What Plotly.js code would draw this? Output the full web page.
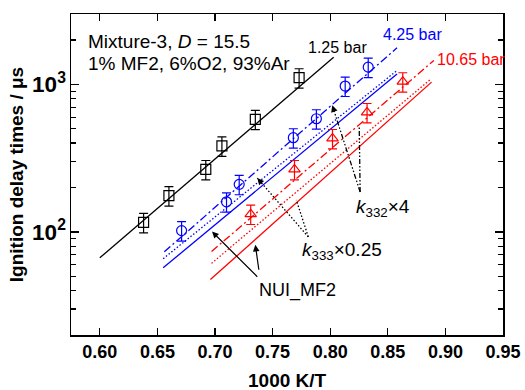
<!DOCTYPE html>
<html>
<head>
<meta charset="utf-8">
<script src="https://cdn.plot.ly/plotly-3.0.1.min.js"></script>
<style>html,body{margin:0;padding:0;background:#fff;}#chart{width:525px;height:390px;}</style>
</head>
<body>
<div id="chart"></div>
<script>
// ---- data ----
const sqX = [0.638, 0.660, 0.692, 0.706, 0.735, 0.773];
const sqY = [116, 176, 265, 383, 580, 1110];
const ciX = [0.671, 0.710, 0.721, 0.768, 0.788, 0.813, 0.833];
const ciY = [102, 160, 210, 435, 585, 974, 1309];
const trX = [0.731, 0.769, 0.802, 0.832, 0.863];
const trY = [132, 265, 430, 645, 1043];
const errPct = 15;

// model lines (end points)
const blackX = [0.600, 0.803], blackY = [66.7, 1528];
const blueK332X = [0.656, 0.858], blueK332Y = [73.3, 1770];
const blueK333X = [0.655, 0.858], blueK333Y = [65.8, 1243];
const blueNuiX = [0.655, 0.858], blueNuiY = [57.1, 1178];
const redK332X = [0.697, 0.890], redK332Y = [73.6, 1453];
const redK333X = [0.697, 0.887], redK333Y = [61.2, 1081];
const redNuiX = [0.696, 0.888], redNuiY = [47.5, 1036];

const xTickVals = [0.60, 0.65, 0.70, 0.75, 0.80, 0.85, 0.90, 0.95];

// arrows: [tailX, tailY, tipX, tipY]
const nuiArrows = [[0.7393, 47.4, 0.6974, 100.5], [0.7393, 47.4, 0.735, 81.7]];
const k333Arrows = [[0.781, 92.5, 0.7367, 231.7], [0.781, 92.5, 0.7706, 164.4]];
const k332Arrows = [[0.826, 186.2, 0.8018, 721], [0.826, 186.2, 0.8252, 511.7]];

const BLACK = '#000000', BLUE = '#0000ff', RED = '#ff0000';
const FONT = 'Liberation Sans, Arial, Helvetica, sans-serif';

function line(x, y, color, dash) {
  return {x: x, y: y, type: 'scatter', mode: 'lines', hoverinfo: 'skip',
          line: {color: color, width: 1.3, dash: dash}};
}
function pts(x, y, color, symbol) {
  return {x: x, y: y, type: 'scatter', mode: 'markers',
          marker: {symbol: symbol, size: 10, color: color, line: {color: color, width: 1.2}},
          error_y: {type: 'percent', value: errPct, color: color, thickness: 1.2, width: 4.5}};
}

const traces = [
  line(blackX, blackY, BLACK, 'solid'),
  line(blueK332X, blueK332Y, BLUE, '8px,3px,2px,3px'),
  line(blueK333X, blueK333Y, BLUE, '1.5px,2px'),
  line(blueNuiX, blueNuiY, BLUE, 'solid'),
  line(redK332X, redK332Y, RED, '8px,3px,2px,3px'),
  line(redK333X, redK333Y, RED, '1.5px,2px'),
  line(redNuiX, redNuiY, RED, 'solid'),
  pts(sqX, sqY, BLACK, 'square-open'),
  pts(ciX, ciY, BLUE, 'circle-open'),
  pts(trX, trY, RED, 'triangle-up-open')
];

// dotted / dash-dot arrow shafts
k333Arrows.forEach(a => traces.push(line([a[0], a[2]], [a[1], a[3]], BLACK, '1.5px,2px')));
k332Arrows.forEach(a => traces.push(line([a[0], a[2]], [a[1], a[3]], BLACK, '5px,2px,1.5px,2px,1.5px,2px')));

const L = Math.log10;
const annotations = [];
function arrowFull(a) {
  annotations.push({x: a[2], y: L(a[3]), ax: a[0], ay: L(a[1]), axref: 'x', ayref: 'y',
    xref: 'x', yref: 'y', text: ' ', showarrow: true, arrowhead: 2, arrowsize: 1.1,
    arrowwidth: 1.2, arrowcolor: BLACK});
}
function arrowHead(a) {
  const f = 0.15;
  const bx = a[2] + f * (a[0] - a[2]);
  const by = L(a[3]) + f * (L(a[1]) - L(a[3]));
  annotations.push({x: a[2], y: L(a[3]), ax: bx, ay: by, axref: 'x', ayref: 'y',
    xref: 'x', yref: 'y', text: ' ', showarrow: true, arrowhead: 2, arrowsize: 1.1,
    arrowwidth: 1.2, arrowcolor: BLACK});
}
nuiArrows.forEach(arrowFull);
k333Arrows.forEach(arrowHead);
k332Arrows.forEach(arrowHead);

function txt(x, y, text, color, size, anchor) {
  annotations.push({x: x, y: L(y), xref: 'x', yref: 'y', text: text, showarrow: false,
    xanchor: anchor || 'center', yanchor: 'middle',
    font: {family: FONT, size: size, color: color}});
}
txt(0.5883, 1950, 'Mixture-3, <i>D</i> = 15.5', BLACK, 19, 'left');
txt(0.5883, 1387, '1% MF2, 6%O2, 93%Ar', BLACK, 19, 'left');
txt(0.8066, 1766, '1.25 bar', BLACK, 16);
txt(0.8713, 2178, '4.25 bar', BLUE, 16);
txt(0.922, 1476, '10.65 bar', RED, 16);
txt(0.7714, 39.9, 'NUI_MF2', BLACK, 18);
txt(0.8105, 74.5, '<i>k</i><sub>333</sub>×0.25', BLACK, 19);
txt(0.846, 145, '<i>k</i><sub>332</sub>×4', BLACK, 19);

const tickFont = {family: FONT, size: 18, color: BLACK, weight: 'bold'};
const titleFont = {family: FONT, size: 19, color: BLACK, weight: 'bold'};

// x-axis title placed as an annotation below the tick labels
annotations.push({xref: 'paper', yref: 'paper', x: 0.5, y: -0.143, text: '1000 K/T',
  showarrow: false, xanchor: 'center', yanchor: 'middle', font: titleFont});

const layout = {
  width: 525, height: 390,
  margin: {l: 71, r: 22, t: 14, b: 55},
  paper_bgcolor: '#ffffff', plot_bgcolor: '#ffffff',
  showlegend: false,
  xaxis: {
    range: [0.575, 0.95], tickvals: xTickVals, ticktext: xTickVals.map(v => v.toFixed(2)),
    ticks: 'inside', ticklen: 7, tickwidth: 1.3, tickcolor: BLACK,
    showline: true, linewidth: 1.5, linecolor: BLACK, mirror: 'ticks',
    showgrid: false, zeroline: false, tickfont: tickFont
  },
  yaxis: {
    type: 'log', range: [L(20), L(3000)], dtick: 1, exponentformat: 'power',
    ticks: 'inside', ticklen: 8, tickwidth: 1.3, tickcolor: BLACK,
    minor: {dtick: 'D1', ticks: 'inside', ticklen: 5, tickwidth: 1.2, tickcolor: BLACK, showgrid: false},
    showline: true, linewidth: 1.5, linecolor: BLACK, mirror: 'ticks',
    showgrid: false, zeroline: false, tickfont: tickFont,
    title: {text: 'Ignition delay times / μs', font: titleFont}
  },
  annotations: annotations
};

Plotly.newPlot('chart', traces, layout, {displayModeBar: false, staticPlot: true});
</script>
</body>
</html>
